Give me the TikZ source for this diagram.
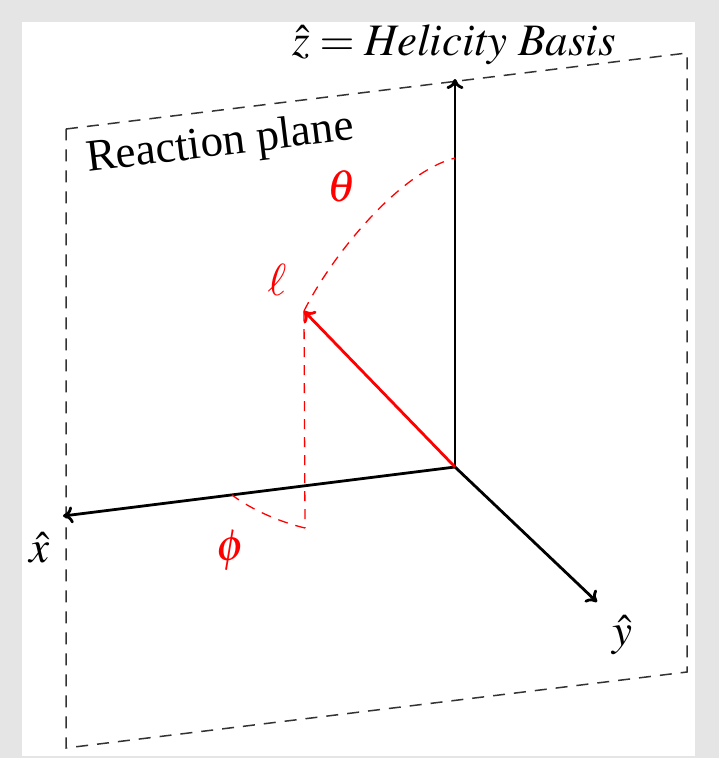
\documentclass[tikz,border=0pt]{standalone}
\usepackage{mathptmx}
\usepackage[no-math]{fontspec}
\setmainfont{Liberation Serif}
\usetikzlibrary{arrows.meta}
\begin{document}
\begin{tikzpicture}[x=1pt,y=-1pt,
  tip/.style={-{Computer Modern Rightarrow[length=10pt,width=17pt]}},
  axis/.style={line width=2.8pt,tip,black},
  plane/.style={line width=1.5pt,dash pattern=on 12pt off 9pt,black!80},
  reddash/.style={line width=1.3pt,dash pattern=on 10pt off 8pt,red},
  lbl/.style={inner sep=0pt,font=\fontsize{45}{50}\selectfont}]
\fill[black!10] (0,0) rectangle (719,758);
\fill[white] (22,22) rectangle (695,756);
\useasboundingbox (0,0) rectangle (719,758);
% plane
\coordinate (A) at (66,129);
\coordinate (B) at (687,53);
\coordinate (C) at (687,672);
\coordinate (D) at (66,748);
\draw[plane] (A) -- (B) -- (C) -- (D) -- cycle;
% axes
\coordinate (O) at (455,467);
\coordinate (Z) at (455,79);
\coordinate (X) at (63,516);
\coordinate (Y) at (597,602);
\coordinate (L) at (304,311);
\coordinate (P) at (305,528);
\coordinate (Q) at (232,495);
\coordinate (T) at (455,158);
\draw[axis] (O) -- (Z);
\draw[axis] (O) -- (X);
\draw[axis] (O) -- (Y);
\draw[reddash] (L) -- (P);
\draw[reddash] (P) .. controls (280,522) and (252,510) .. (Q);
\draw[reddash] (L) .. controls (332,255) and (400,172) .. (T);
\draw[axis,red] (O) -- (L);
% labels
\node[lbl,anchor=base] (zl) at (454,55) {$\hat{z} = \mathit{Helicity\ Basis}$};
\node[lbl,anchor=base west,rotate=7] (rp) at (88,172) {Reaction plane};
\node[lbl] (xl) at (40,548) {$\hat{x}$};
\node[lbl] (yl) at (622,635) {$\hat{y}$};
\node[lbl,text=red] (th) at (342,186) {$\theta$};
\node[lbl,text=red] (el) at (277,280) {$\ell$};
\node[lbl,text=red] (ph) at (231,550) {$\phi$};
\end{tikzpicture}
\end{document}
